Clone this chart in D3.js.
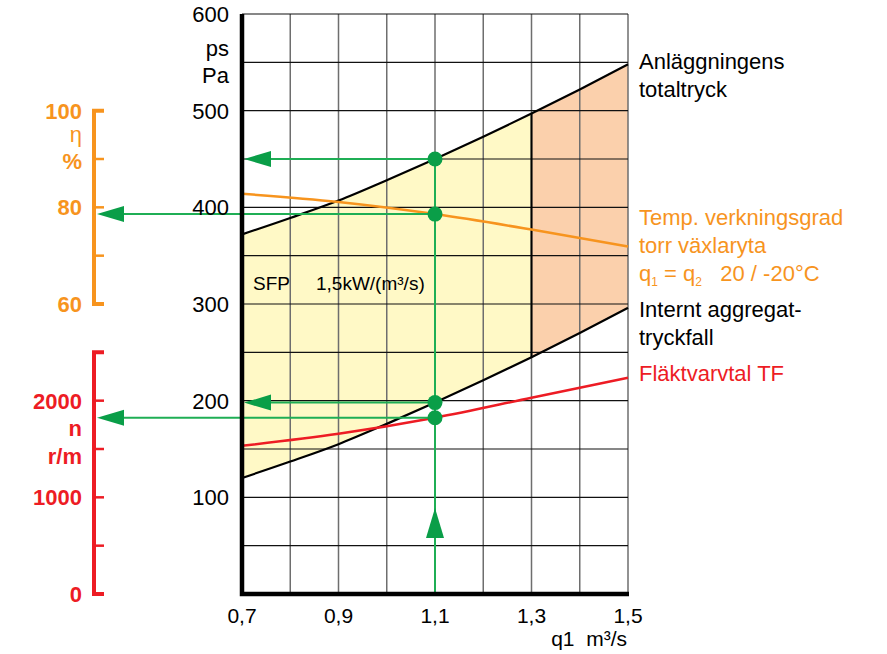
<!DOCTYPE html>
<html lang="sv">
  <head>
    <meta charset="UTF-8" />
    <title>Fläktdiagram</title>
    <script src="https://cdn.jsdelivr.net/npm/d3@7"></script>
    <style>
      body {
        margin: 0;
        background: #fff;
      }
      text {
        font-family: "Liberation Sans", Arial, sans-serif;
      }
    </style>
  </head>
  <body>
    <div id="chart"></div>

    <script>
      ///////////////////////////////////////////////////////////////////////////
      /////////////////////////////////// Data //////////////////////////////////
      ///////////////////////////////////////////////////////////////////////////

      var flows = [0.7, 0.8, 0.9, 1.0, 1.1, 1.2, 1.3, 1.4, 1.5]; // q1 m3/s
      var totalPressure = [372, 389, 407, 428, 450, 473, 497, 522, 548]; // Pa
      var internalPressure = [120, 137, 155, 176, 198, 221, 245, 270, 296]; // Pa
      var effFlows = [0.7, 0.9, 1.1, 1.3, 1.5];
      var efficiency = [82.8, 81.1, 78.6, 75.4, 71.9]; // %
      var speedFlows = [0.7, 0.9, 1.1, 1.3, 1.5];
      var fanSpeed = [1533, 1657, 1823, 2030, 2237]; // r/m

      var xTicks = [0.7, 0.9, 1.1, 1.3, 1.5];
      var pTicks = [100, 200, 300, 400, 500, 600];
      var etaTicks = [60, 80, 100];
      var nTicks = [0, 1000, 2000];

      var workFlow = 1.1; // operating point
      var workTotal = 450,
        workInternal = 198,
        workEta = 78.6,
        workSpeed = 1823;
      var limitFlow = 1.3; // end of the yellow zone

      ///////////////////////////////////////////////////////////////////////////
      //////////////////////////////// Set up svg ///////////////////////////////
      ///////////////////////////////////////////////////////////////////////////

      var width = 887,
        height = 654;

      var svg = d3
        .select("#chart")
        .append("svg")
        .attr("width", width)
        .attr("height", height);

      var x = d3.scaleLinear().domain([0.7, 1.5]).range([242, 628]);
      var y = d3.scaleLinear().domain([0, 600]).range([594, 14]);
      var yEta = d3.scaleLinear().domain([60, 100]).range([y(300), y(500)]);
      var yN = d3.scaleLinear().domain([0, 2500]).range([y(0), y(250)]);

      var green = "#1fae55",
        greenDark = "#0a9e48",
        orange = "#f7941e",
        red = "#ed1c24";

      var pts = flows.map(function(q, i) {
        return { q: q, lo: internalPressure[i], hi: totalPressure[i] };
      });

      ///////////////////////////////////////////////////////////////////////////
      /////////////////////////////// Filled zones //////////////////////////////
      ///////////////////////////////////////////////////////////////////////////

      var area = d3
        .area()
        .x(function(d) { return x(d.q); })
        .y0(function(d) { return y(d.lo); })
        .y1(function(d) { return y(d.hi); })
        .curve(d3.curveMonotoneX);

      svg
        .append("path")
        .attr("d", area(pts.filter(function(d) { return d.q <= limitFlow + 1e-9; })))
        .style("fill", "#fff9c6");

      svg
        .append("path")
        .attr("d", area(pts.filter(function(d) { return d.q >= limitFlow - 1e-9; })))
        .style("fill", "#fbd0ac");

      ///////////////////////////////////////////////////////////////////////////
      ////////////////////////////////// Grid ///////////////////////////////////
      ///////////////////////////////////////////////////////////////////////////

      svg
        .append("g")
        .selectAll("line")
        .data(d3.range(8, 16).map(function(d) { return d / 10; }))
        .enter()
        .append("line")
        .attr("x1", function(d) { return x(d); })
        .attr("x2", function(d) { return x(d); })
        .attr("y1", y(0))
        .attr("y2", y(600))
        .style("stroke", "#6e6e6e")
        .style("stroke-width", 1.5);

      svg
        .append("g")
        .selectAll("line")
        .data(d3.range(50, 601, 50))
        .enter()
        .append("line")
        .attr("x1", x(0.7))
        .attr("x2", x(1.5))
        .attr("y1", function(d) { return y(d); })
        .attr("y2", function(d) { return y(d); })
        .style("stroke", "#111")
        .style("stroke-width", 1.2);

      ///////////////////////////////////////////////////////////////////////////
      ///////////////////////////////// Curves //////////////////////////////////
      ///////////////////////////////////////////////////////////////////////////

      var line = d3.line().curve(d3.curveMonotoneX);

      svg
        .append("path")
        .attr("d", line(flows.map(function(q, i) { return [x(q), y(totalPressure[i])]; })))
        .style("fill", "none")
        .style("stroke", "#000")
        .style("stroke-width", 2.2);

      svg
        .append("path")
        .attr("d", line(flows.map(function(q, i) { return [x(q), y(internalPressure[i])]; })))
        .style("fill", "none")
        .style("stroke", "#000")
        .style("stroke-width", 2.2);

      //vertical border between the zones
      var iLim = flows.indexOf(limitFlow);
      svg
        .append("line")
        .attr("x1", x(limitFlow))
        .attr("x2", x(limitFlow))
        .attr("y1", y(internalPressure[iLim]))
        .attr("y2", y(totalPressure[iLim]))
        .style("stroke", "#000")
        .style("stroke-width", 2);

      svg
        .append("path")
        .attr("d", line(effFlows.map(function(q, i) { return [x(q), yEta(efficiency[i])]; })))
        .style("fill", "none")
        .style("stroke", orange)
        .style("stroke-width", 2.5);

      svg
        .append("path")
        .attr("d", line(speedFlows.map(function(q, i) { return [x(q), yN(fanSpeed[i])]; })))
        .style("fill", "none")
        .style("stroke", red)
        .style("stroke-width", 2.5);

      ///////////////////////////////////////////////////////////////////////////
      ///////////////////////////// Reading arrows //////////////////////////////
      ///////////////////////////////////////////////////////////////////////////

      var xw = x(workFlow);
      var arrows = [
        { yPos: y(workTotal), tip: x(0.7) + 2 },
        { yPos: yEta(workEta), tip: 97 },
        { yPos: y(workInternal), tip: x(0.7) + 2 },
        { yPos: yN(workSpeed), tip: 97 }
      ];

      svg
        .append("line")
        .attr("x1", xw)
        .attr("x2", xw)
        .attr("y1", y(0))
        .attr("y2", y(workTotal))
        .style("stroke", green)
        .style("stroke-width", 2);

      svg
        .append("path")
        .attr("d", "M" + xw + "," + 508 + "L" + (xw + 9) + "," + 538 + "L" + (xw - 9) + "," + 538 + "Z")
        .style("fill", greenDark);

      arrows.forEach(function(a) {
        svg
          .append("line")
          .attr("x1", xw)
          .attr("x2", a.tip + 10)
          .attr("y1", a.yPos)
          .attr("y2", a.yPos)
          .style("stroke", green)
          .style("stroke-width", 2);
        svg
          .append("path")
          .attr("d", "M" + a.tip + "," + a.yPos + "L" + (a.tip + 27) + "," + (a.yPos - 8) + "L" + (a.tip + 27) + "," + (a.yPos + 8) + "Z")
          .style("fill", greenDark);
        svg
          .append("circle")
          .attr("cx", xw)
          .attr("cy", a.yPos)
          .attr("r", 7.5)
          .style("fill", greenDark);
      });

      ///////////////////////////////////////////////////////////////////////////
      ///////////////////////////////// Axes ////////////////////////////////////
      ///////////////////////////////////////////////////////////////////////////

      svg
        .append("path")
        .attr("d", "M" + x(0.7) + "," + y(600) + "V" + y(0) + "H" + (x(1.5) + 1))
        .style("fill", "none")
        .style("stroke", "#000")
        .style("stroke-width", 4.5);

      //pressure labels
      svg
        .selectAll(".pLabel")
        .data(pTicks)
        .enter()
        .append("text")
        .attr("class", "pLabel")
        .attr("x", 229)
        .attr("y", function(d) { return y(d) + 8; })
        .attr("text-anchor", "end")
        .style("font-size", "22px")
        .text(function(d) { return d; });

      svg.append("text").attr("x", 229).attr("y", 56).attr("text-anchor", "end").style("font-size", "22px").text("ps");
      svg.append("text").attr("x", 229).attr("y", 83).attr("text-anchor", "end").style("font-size", "22px").text("Pa");

      //flow labels
      svg
        .selectAll(".xLabel")
        .data(xTicks)
        .enter()
        .append("text")
        .attr("class", "xLabel")
        .attr("x", function(d) { return x(d); })
        .attr("y", 623)
        .attr("text-anchor", "middle")
        .style("font-size", "21px")
        .text(function(d) { return d3.format(".1f")(d).replace(".", ","); });

      svg.append("text").attr("x", 627).attr("y", 646).attr("text-anchor", "end").style("font-size", "21px").text("q1\u00a0\u00a0m³/s");

      //efficiency bracket
      var etaAxis = svg.append("g").style("stroke", orange);
      etaAxis
        .append("path")
        .attr("d", "M104," + yEta(100) + "H94V" + yEta(60) + "H104")
        .style("fill", "none")
        .style("stroke-width", 4);
      etaAxis
        .selectAll("line")
        .data([70, 80, 90])
        .enter()
        .append("line")
        .attr("x1", 94)
        .attr("x2", 104)
        .attr("y1", function(d) { return yEta(d); })
        .attr("y2", function(d) { return yEta(d); })
        .style("stroke-width", 2.5);

      svg
        .selectAll(".etaLabel")
        .data(etaTicks)
        .enter()
        .append("text")
        .attr("class", "etaLabel")
        .attr("x", 82)
        .attr("y", function(d) { return yEta(d) + 8; })
        .attr("text-anchor", "end")
        .style("font-size", "22px")
        .style("font-weight", "bold")
        .style("fill", orange)
        .text(function(d) { return d; });
      svg.append("text").attr("x", 82).attr("y", 142).attr("text-anchor", "end").style("font-size", "22px").style("fill", orange).text("η");
      svg.append("text").attr("x", 82).attr("y", 169).attr("text-anchor", "end").style("font-size", "22px").style("font-weight", "bold").style("fill", orange).text("%");

      //fan speed bracket
      var nAxis = svg.append("g").style("stroke", red);
      nAxis
        .append("path")
        .attr("d", "M104," + yN(2500) + "H94V" + yN(0) + "H104")
        .style("fill", "none")
        .style("stroke-width", 4);
      nAxis
        .selectAll("line")
        .data([500, 1000, 1500, 2000])
        .enter()
        .append("line")
        .attr("x1", 94)
        .attr("x2", 104)
        .attr("y1", function(d) { return yN(d); })
        .attr("y2", function(d) { return yN(d); })
        .style("stroke-width", 2.5);

      svg
        .selectAll(".nLabel")
        .data(nTicks)
        .enter()
        .append("text")
        .attr("class", "nLabel")
        .attr("x", 82)
        .attr("y", function(d) { return yN(d) + 8; })
        .attr("text-anchor", "end")
        .style("font-size", "22px")
        .style("font-weight", "bold")
        .style("fill", red)
        .text(function(d) { return d; });
      svg.append("text").attr("x", 82).attr("y", 436).attr("text-anchor", "end").style("font-size", "22px").style("font-weight", "bold").style("fill", red).text("n");
      svg.append("text").attr("x", 82).attr("y", 464).attr("text-anchor", "end").style("font-size", "22px").style("font-weight", "bold").style("fill", red).text("r/m");

      ///////////////////////////////////////////////////////////////////////////
      //////////////////////////////// Labels ///////////////////////////////////
      ///////////////////////////////////////////////////////////////////////////

      svg.append("text").attr("x", 253).attr("y", 290).style("font-size", "19px").text("SFP");
      svg.append("text").attr("x", 316).attr("y", 290).style("font-size", "19px").text("1,5kW/(m³/s)");

      var rightLabels = [
        { t: "Anläggningens", yPos: 69, c: "#000" },
        { t: "totaltryck", yPos: 97, c: "#000" },
        { t: "Temp. verkningsgrad", yPos: 225, c: orange },
        { t: "torr växlaryta", yPos: 253, c: orange },
        { t: "Internt aggregat-", yPos: 317, c: "#000" },
        { t: "tryckfall", yPos: 345, c: "#000" },
        { t: "Fläktvarvtal TF", yPos: 381, c: red }
      ];
      svg
        .selectAll(".rLabel")
        .data(rightLabels)
        .enter()
        .append("text")
        .attr("class", "rLabel")
        .attr("x", 639)
        .attr("y", function(d) { return d.yPos; })
        .style("font-size", "22px")
        .style("fill", function(d) { return d.c; })
        .text(function(d) { return d.t; });

      var qText = svg
        .append("text")
        .attr("x", 639)
        .attr("y", 281)
        .style("font-size", "22px")
        .style("fill", orange);
      qText.append("tspan").text("q");
      qText.append("tspan").attr("dy", 5).style("font-size", "12px").text("1");
      qText.append("tspan").attr("dy", -5).text(" = q");
      qText.append("tspan").attr("dy", 5).style("font-size", "12px").text("2");
      qText.append("tspan").attr("dy", -5).text("\u00a0\u00a0\u00a020 / -20°C");
    </script>
  </body>
</html>
